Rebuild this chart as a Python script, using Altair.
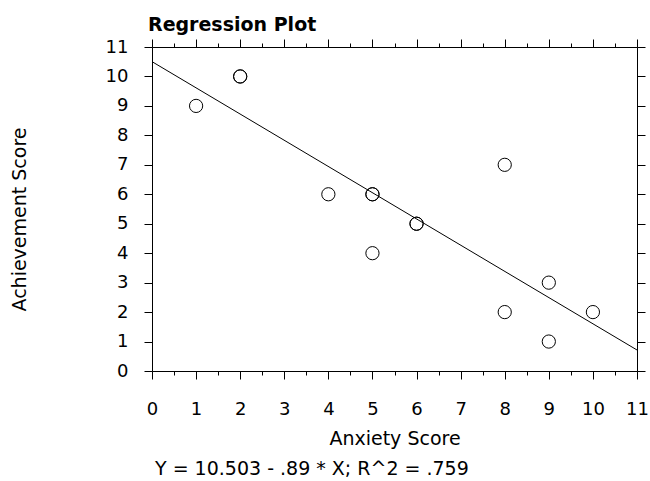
import altair as alt
import pandas as pd

# ---- data ----
anxiety = [1, 2, 2, 4, 5, 5, 5, 6, 6, 8, 8, 9, 9, 10]
achievement = [9, 10, 10, 6, 6, 6, 4, 5, 5, 7, 2, 3, 1, 2]

intercept = 10.503
slope = -0.89
line_x = [0, 11]

x_tick_values = [0, 0.5, 1, 1.5, 2, 2.5, 3, 3.5, 4, 4.5, 5, 5.5, 6, 6.5,
                 7, 7.5, 8, 8.5, 9, 9.5, 10, 10.5, 11]
y_tick_values = [0, 1, 2, 3, 4, 5, 6, 7, 8, 9, 10, 11]

title_text = "Regression Plot"
x_title = "Anxiety Score"
y_title = "Achievement Score"
equation = "Y = 10.503 - .89 * X; R^2 = .759"

FONT = "DejaVu Sans"

pts = pd.DataFrame({"anxiety": anxiety, "achievement": achievement})
ldf = pd.DataFrame({"x": line_x})
edf = pd.DataFrame({"eq": [equation]})

sx = alt.Scale(domain=[0, 11], nice=False, zero=False)
sy = alt.Scale(domain=[0, 11], nice=False, zero=False)

major_minor = {"condition": {"test": "datum.value % 1 === 0", "value": 8}, "value": 4}
int_label = "datum.value % 1 === 0 ? '' + datum.value : ''"

common = dict(domainColor="black", domainWidth=1, tickColor="black", tickWidth=1,
              grid=False, labelColor="black", titleColor="black",
              labelFont=FONT, titleFont=FONT, labelFlush=False, labelOverlap=False)

points = alt.Chart(pts).mark_point(
    shape="circle", filled=False, color="black", strokeWidth=1, size=175, opacity=1
).encode(
    x=alt.X("anxiety:Q", scale=sx, axis=alt.Axis(
        orient="bottom", values=x_tick_values, labelExpr=int_label,
        tickSize=major_minor, labelFontSize=18, labelPadding=21,
        title=x_title, titleFontSize=19, titleFontWeight="normal",
        titleY=73, titleBaseline="alphabetic", **common)),
    y=alt.Y("achievement:Q", scale=sy, axis=alt.Axis(
        orient="left", values=y_tick_values, tickSize=8, labelFontSize=18,
        labelPadding=16, title=y_title, titleFontSize=19, titleFontWeight="normal",
        titleAngle=270, titleX=-127, titleY=172, titleAlign="center",
        titleBaseline="alphabetic", **common)),
)

line = alt.Chart(ldf).transform_calculate(
    y=f"{intercept} + ({slope}) * datum.x"
).mark_line(color="black", strokeWidth=1).encode(
    x=alt.X("x:Q", scale=sx, axis=alt.Axis(
        orient="top", values=x_tick_values, labels=False, tickSize=major_minor,
        title=None, **common)),
    y=alt.Y("y:Q", scale=sy, axis=alt.Axis(
        orient="right", values=y_tick_values, labels=False, tickSize=8,
        title=None, **common)),
)

eq = alt.Chart(edf).mark_text(
    align="left", baseline="alphabetic", fontSize=19, font=FONT, color="black"
).encode(x=alt.value(3), y=alt.value(428), text="eq:N")

chart = alt.layer(points, line, eq).resolve_axis(
    x="independent", y="independent"
).properties(
    width=485, height=324,
    title=alt.TitleParams(text=title_text, anchor="start", frame="group", fontSize=19,
                          font=FONT, fontWeight="bold", color="black", dx=-4, dy=23,
                          offset=11, baseline="alphabetic"),
    autosize=alt.AutoSizeParams(type="none"),
    padding={"left": 152, "top": 47, "right": 13, "bottom": 110},
    background="white",
).configure_view(stroke=None)

chart.save("out.html", embed_options={"renderer": "svg", "actions": False})
